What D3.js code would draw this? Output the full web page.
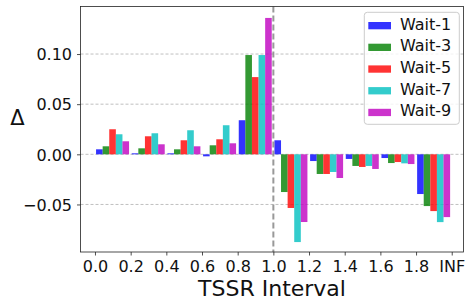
<!DOCTYPE html>
<html>
<head>
<meta charset="utf-8">
<script src="https://cdn.jsdelivr.net/npm/d3@7.9.0/dist/d3.min.js"></script>
<style>
  body { margin: 0; background: #fff; }
  svg { font-family: "DejaVu Sans", sans-serif; }
</style>
</head>
<body>
<svg width="465" height="300"></svg>
<script>
// tick labels along the x axis
const tickLabels = ['0.0', '0.2', '0.4', '0.6', '0.8', '1.0', '1.2', '1.4', '1.6', '1.8', 'INF'];
const series = ['Wait-1', 'Wait-3', 'Wait-5', 'Wait-7', 'Wait-9'];
const yTicks = [-0.05, 0, 0.05, 0.10];

// one value per interval (10 intervals between the ticks)
const wait1 = [0.005, 0.001, 0.001, -0.002, 0.034, 0.014, -0.0067, -0.0046, -0.0037, -0.0396];
const wait3 = [0.008, 0.006, 0.005, 0.009, 0.099, -0.0376, -0.0196, -0.0116, -0.0087, -0.0516];
const wait5 = [0.025, 0.018, 0.014, 0.015, 0.077, -0.0535, -0.0196, -0.0126, -0.0077, -0.0566];
const wait7 = [0.020, 0.021, 0.024, 0.029, 0.099, -0.0875, -0.0176, -0.0116, -0.009, -0.0676];
const wait9 = [0.013, 0.010, 0.008, 0.011, 0.136, -0.0675, -0.0236, -0.0146, -0.0097, -0.0626];
const allSeries = [wait1, wait3, wait5, wait7, wait9];

const colors = ['#0000ff', '#008000', '#ff0000', '#00bfbf', '#bf00bf'];

const mLeft = 80.5, mRight = 463.5, mTop = 6.5, mBottom = 252;
const svg = d3.select('svg');

let x = d3.scaleLinear().domain([-0.406, 10.33]).range([mLeft, mRight]);
let y = d3.scaleLinear().domain([-0.0974, 0.1474]).range([mBottom, mTop]);

const barW = 0.185;

// horizontal grid
svg.append('g')
  .selectAll('line')
  .data(yTicks)
  .join('line')
  .attr('x1', mLeft).attr('x2', mRight)
  .attr('y1', d => y(d)).attr('y2', d => y(d))
  .attr('stroke', '#b0b0b0')
  .attr('stroke-width', 0.8)
  .attr('stroke-dasharray', '3,2');

// bars
allSeries.forEach((vals, k) => {
  svg.append('g')
    .selectAll('rect')
    .data(vals)
    .join('rect')
    .attr('x', (d, i) => x(i + 0.03 + k * barW))
    .attr('width', x(barW) - x(0))
    .attr('y', d => y(Math.max(0, d)))
    .attr('height', d => Math.abs(y(d) - y(0)))
    .attr('fill', colors[k])
    .attr('fill-opacity', 0.8);
});

// dashed line at 1.0
svg.append('line')
  .attr('x1', x(5)).attr('x2', x(5))
  .attr('y1', mTop).attr('y2', mBottom)
  .attr('stroke', '#808080')
  .attr('stroke-opacity', 0.8)
  .attr('stroke-width', 2)
  .attr('stroke-dasharray', '6,3');

// axes
let xAxis = d3.axisBottom(x)
  .tickValues(d3.range(tickLabels.length))
  .tickFormat(i => tickLabels[i])
  .tickSize(3.5).tickPadding(5);
let yAxis = d3.axisLeft(y)
  .tickValues(yTicks)
  .tickFormat(d => d3.format('.2f')(d).replace('-', '\u2212'))
  .tickSize(3.5).tickPadding(5);

const gx = svg.append('g').attr('transform', `translate(0,${mBottom})`).call(xAxis);
const gy = svg.append('g').attr('transform', `translate(${mLeft},0)`).call(yAxis);
[gx, gy].forEach(g => {
  g.select('.domain').remove();
  g.selectAll('text').attr('font-size', 16).attr('fill', '#111').attr('font-family', '"DejaVu Sans"');
  g.selectAll('line').attr('stroke', '#222').attr('stroke-width', 0.8);
});
gy.selectAll('text').attr('dy', '0.36em');

// frame
svg.append('rect')
  .attr('x', mLeft).attr('y', mTop)
  .attr('width', mRight - mLeft).attr('height', mBottom - mTop)
  .attr('fill', 'none')
  .attr('stroke', '#222')
  .attr('stroke-width', 0.8);

// labels
svg.append('text')
  .attr('x', (mLeft + mRight) / 2).attr('y', 296)
  .attr('text-anchor', 'middle')
  .attr('font-size', 22)
  .attr('fill', '#111')
  .text('TSSR Interval');

svg.append('text')
  .attr('x', 17.5).attr('y', 125)
  .attr('text-anchor', 'middle')
  .attr('font-size', 21)
  .attr('fill', '#111')
  .text('Δ');

// legend
const lg = svg.append('g');
lg.append('rect')
  .attr('x', 364.3).attr('y', 12.3)
  .attr('width', 95).attr('height', 112)
  .attr('rx', 3)
  .attr('fill', '#fff').attr('fill-opacity', 0.8)
  .attr('stroke', '#cccccc').attr('stroke-width', 1);
series.forEach((name, k) => {
  lg.append('rect')
    .attr('x', 368.3).attr('y', 22 + k * 21.7)
    .attr('width', 22.7).attr('height', 7.3)
    .attr('fill', colors[k]).attr('fill-opacity', 0.8);
  lg.append('text')
    .attr('x', 400).attr('y', 29.5 + k * 21.7)
    .attr('font-size', 16)
    .attr('fill', '#111')
    .text(name);
});
</script>
</body>
</html>
